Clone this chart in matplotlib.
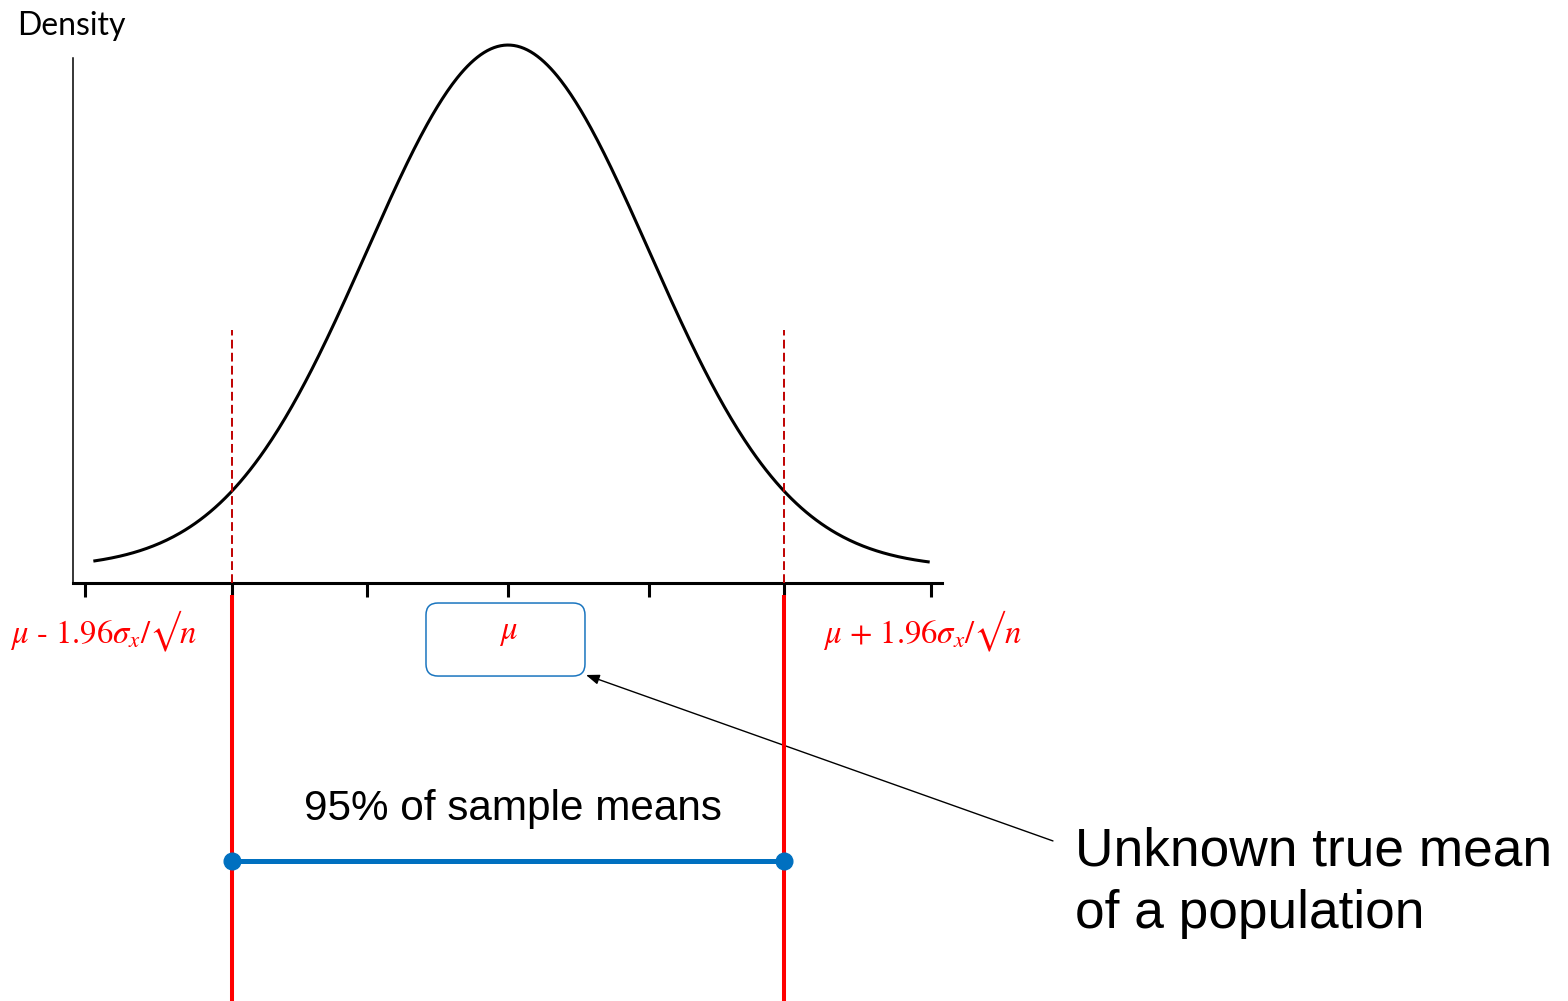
import numpy as np
import matplotlib
matplotlib.use("Agg")
import matplotlib.pyplot as plt
from matplotlib.patches import FancyBboxPatch

plt.rcParams["mathtext.fontset"] = "stix"

# ---------- Values ----------
MU = 0.0
SIGMA = 1.0
Z_CRIT = 1.96
curve_range = [-2.93, 2.98]
tick_positions = [-3, -1, 0, 1, 3]   # +-2 sit under the critical lines
axis_y = -0.0114            # x axis sits just under the density baseline
dashed_top = 0.1815
interval_y = -0.2235

lower_label = r"$\mu$ - 1.96$\sigma_x$/√$n$"
upper_label = r"$\mu$ + 1.96$\sigma_x$/√$n$"
mean_label = r"$\mu$"
interval_text = "95% of sample means"
callout_text = "Unknown true mean\nof a population"

RED = "#FF0000"
DARK_RED = "#C00000"
BLUE = "#0070C0"

# ---------- Curve ----------
z = np.linspace(curve_range[0], curve_range[1], 500)
density = np.exp(-0.5 * ((z - MU) / SIGMA) ** 2) / (SIGMA * np.sqrt(2 * np.pi))

fig = plt.figure(figsize=(15.68, 10.01), dpi=100)
ax = fig.add_axes([0, 0, 1, 1])
ax.set_xlim(-3.6028, 7.5177)
ax.set_ylim(-0.3303, 0.4333)
ax.patch.set_visible(False)

ax.plot(z, density, color="black", lw=2.2, zorder=3)

# axes drawn as spines
for side in ["top", "right"]:
    ax.spines[side].set_visible(False)
ax.spines["bottom"].set_position(("data", axis_y))
ax.spines["bottom"].set_bounds(-3.085, 3.078)
ax.spines["bottom"].set_linewidth(2.2)
ax.spines["left"].set_position(("data", -3.085))
ax.spines["left"].set_bounds(axis_y, 0.389)
ax.spines["left"].set_linewidth(1.1)
ax.set_xticks(tick_positions)
ax.set_xticklabels([""] * len(tick_positions))
ax.tick_params(axis="x", direction="out", length=10, width=2.2, color="black")
ax.set_yticks([])

# critical values
lo, hi = MU - Z_CRIT * SIGMA, MU + Z_CRIT * SIGMA
for x in [lo, hi]:
    ax.plot([x, x], [axis_y, dashed_top], color=DARK_RED, lw=1.4,
            dashes=(4.5, 2.2), zorder=4)
    ax.plot([x, x], [axis_y, -0.0206], color="black", lw=2.2, zorder=4,
            solid_capstyle="butt")
    ax.plot([x, x], [-0.0206, -0.3303], color=RED, lw=2.9, zorder=4,
            solid_capstyle="butt", clip_on=False)

ax.text(-2.865, -0.0572, lower_label, color=RED, fontsize=23.5,
        family="STIXGeneral", ha="center", va="baseline")
ax.text(2.936, -0.0572, upper_label, color=RED, fontsize=23.5,
        family="STIXGeneral", ha="center", va="baseline")

# box around the true mean
box = FancyBboxPatch((-0.5816, -0.0824), 1.1276, 0.0557,
                     boxstyle="round,pad=0,rounding_size=0.085",
                     mutation_aspect=0.1076, facecolor="none",
                     edgecolor="#1A75BF", lw=1.1, zorder=5)
ax.add_patch(box)
ax.text(MU, -0.0542, mean_label, color=RED, fontsize=23.5,
        family="STIXGeneral", ha="center", va="baseline", zorder=6)

# interval of sample means
ax.plot([lo, hi], [interval_y, interval_y], color=BLUE, lw=3.6,
        marker="o", markersize=12, zorder=5)
ax.text(0.035, -0.1922, interval_text, fontsize=30.4,
        family="Liberation Sans", ha="center", va="baseline")

# callout pointing at the box
ax.annotate("", xy=(0.553, -0.0816), xytext=(3.865, -0.2082),
            arrowprops=dict(arrowstyle="-|>,head_length=0.8,head_width=0.3",
                            color="black", lw=1.0, shrinkA=0, shrinkB=0))
ax.text(4.021, -0.2746, callout_text, fontsize=38.3,
        family="Liberation Sans", ha="left", va="baseline", linespacing=1.33)

fig.text(17 / 1568, 1 - 35 / 1001, "Density", fontsize=23, family="Lato",
         ha="left", va="baseline")

fig.savefig("out.png", dpi=100)
